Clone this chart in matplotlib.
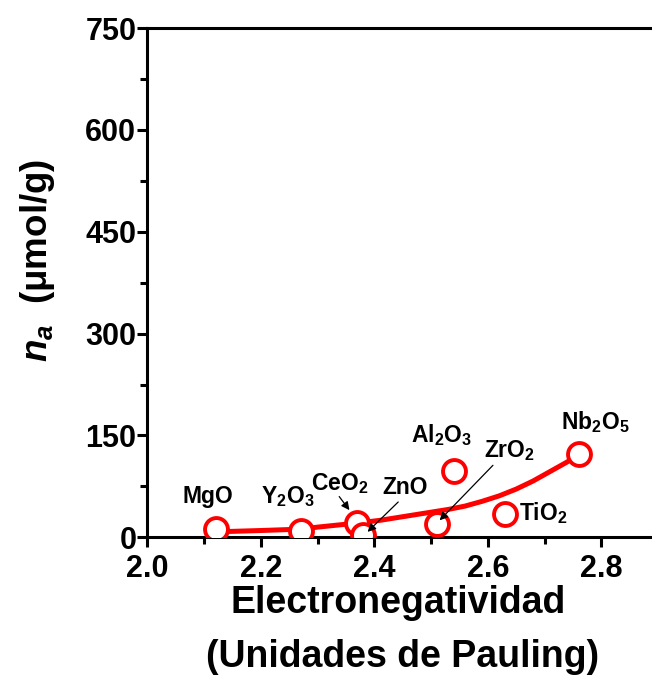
import matplotlib
matplotlib.use("Agg")
import matplotlib.pyplot as plt

plt.rcParams['font.family'] = ['Liberation Sans', 'DejaVu Sans']
plt.rcParams['font.weight'] = 'bold'
plt.rcParams['mathtext.fontset'] = 'custom'
plt.rcParams['mathtext.rm'] = 'Liberation Sans:bold'
plt.rcParams['mathtext.bf'] = 'Liberation Sans:bold'
plt.rcParams['mathtext.it'] = 'Liberation Sans:bold:italic'

# Data
oxides = ['MgO', 'Y$_2$O$_3$', 'CeO$_2$', 'ZnO', 'ZrO$_2$', 'Al$_2$O$_3$', 'TiO$_2$', 'Nb$_2$O$_5$']
electroneg = [2.12, 2.27, 2.37, 2.38, 2.51, 2.54, 2.63, 2.76]
na_values = [12, 10, 21, 3, 20, 98, 34, 123]

# Trend curve
trend_x = [2.12, 2.20, 2.27, 2.30, 2.37, 2.41, 2.47, 2.53, 2.56, 2.59, 2.62, 2.65, 2.68, 2.71, 2.74, 2.76]
trend_y = [8, 10, 12, 15, 21, 25, 33, 41, 46, 53, 61, 71, 83, 97, 111, 123]

# Label positions (data coords) and optional arrow targets
label_pos = [(2.106, 60), (2.248, 60), (2.339, 79), (2.454, 73), (2.639, 128),
             (2.518, 150), (2.697, 35), (2.789, 170)]
arrows = {2: ((2.338, 60), (2.356, 40)),
          3: ((2.442, 52), (2.388, 8)),
          4: ((2.609, 106), (2.515, 25))}

xticks = [2.0, 2.2, 2.4, 2.6, 2.8]
yticks = [0, 150, 300, 450, 600, 750]

fig = plt.figure(figsize=(6.52, 6.75), dpi=100)
ax = fig.add_axes([0.2262, 0.204, 0.870, 0.7545])

ax.plot(trend_x, trend_y, color='#ff0000', lw=3.6, zorder=2, solid_capstyle='round',
        solid_joinstyle='round')
for i in range(len(oxides)):
    ax.plot(electroneg[i], na_values[i], 'o', ms=16.5, mfc='white', mec='#ff0000',
            mew=2.8, zorder=3 + i * 0.01)

for i, name in enumerate(oxides):
    lx, ly = label_pos[i]
    ax.text(lx, ly, name, ha='center', va='center', fontsize=16.5, fontweight='bold', zorder=5)
for i, (tail, head) in arrows.items():
    ax.annotate('', xy=head, xytext=tail,
                arrowprops=dict(arrowstyle='-|>', lw=0.9, color='black', mutation_scale=12,
                                shrinkA=0, shrinkB=0), zorder=6)

ax.set_xlim(2.0, 3.0)
ax.set_ylim(0, 750)
ax.set_xticks(xticks)
ax.set_xticklabels([f'{t:.1f}' for t in xticks])
ax.set_yticks(yticks)
ax.set_yticklabels([str(t) for t in yticks])
ax.set_xticks([2.1, 2.3, 2.5, 2.7, 2.9], minor=True)
ax.set_yticks([75, 225, 375, 525, 675], minor=True)

for s in ax.spines.values():
    s.set_linewidth(2.2)
ax.tick_params(axis='both', which='major', direction='out', length=7, width=2.2, labelsize=22)
ax.tick_params(axis='both', which='minor', direction='out', length=5, width=2.2)
ax.tick_params(axis='y', pad=1)
ax.tick_params(axis='x', pad=5)
for lab in ax.get_xticklabels() + ax.get_yticklabels():
    lab.set_fontweight('bold')

fig.text(0.611, 0.0919, 'Electronegatividad', ha='center', va='baseline', fontsize=27, fontweight='bold')
fig.text(0.618, 0.0119, '(Unidades de Pauling)', ha='center', va='baseline', fontsize=27, fontweight='bold')
fig.text(0.057, 0.614, '$n_a$  (μmol/g)', ha='center', va='center', rotation=90,
         fontsize=26.5, fontweight='bold')

fig.savefig('out.png', dpi=100)
